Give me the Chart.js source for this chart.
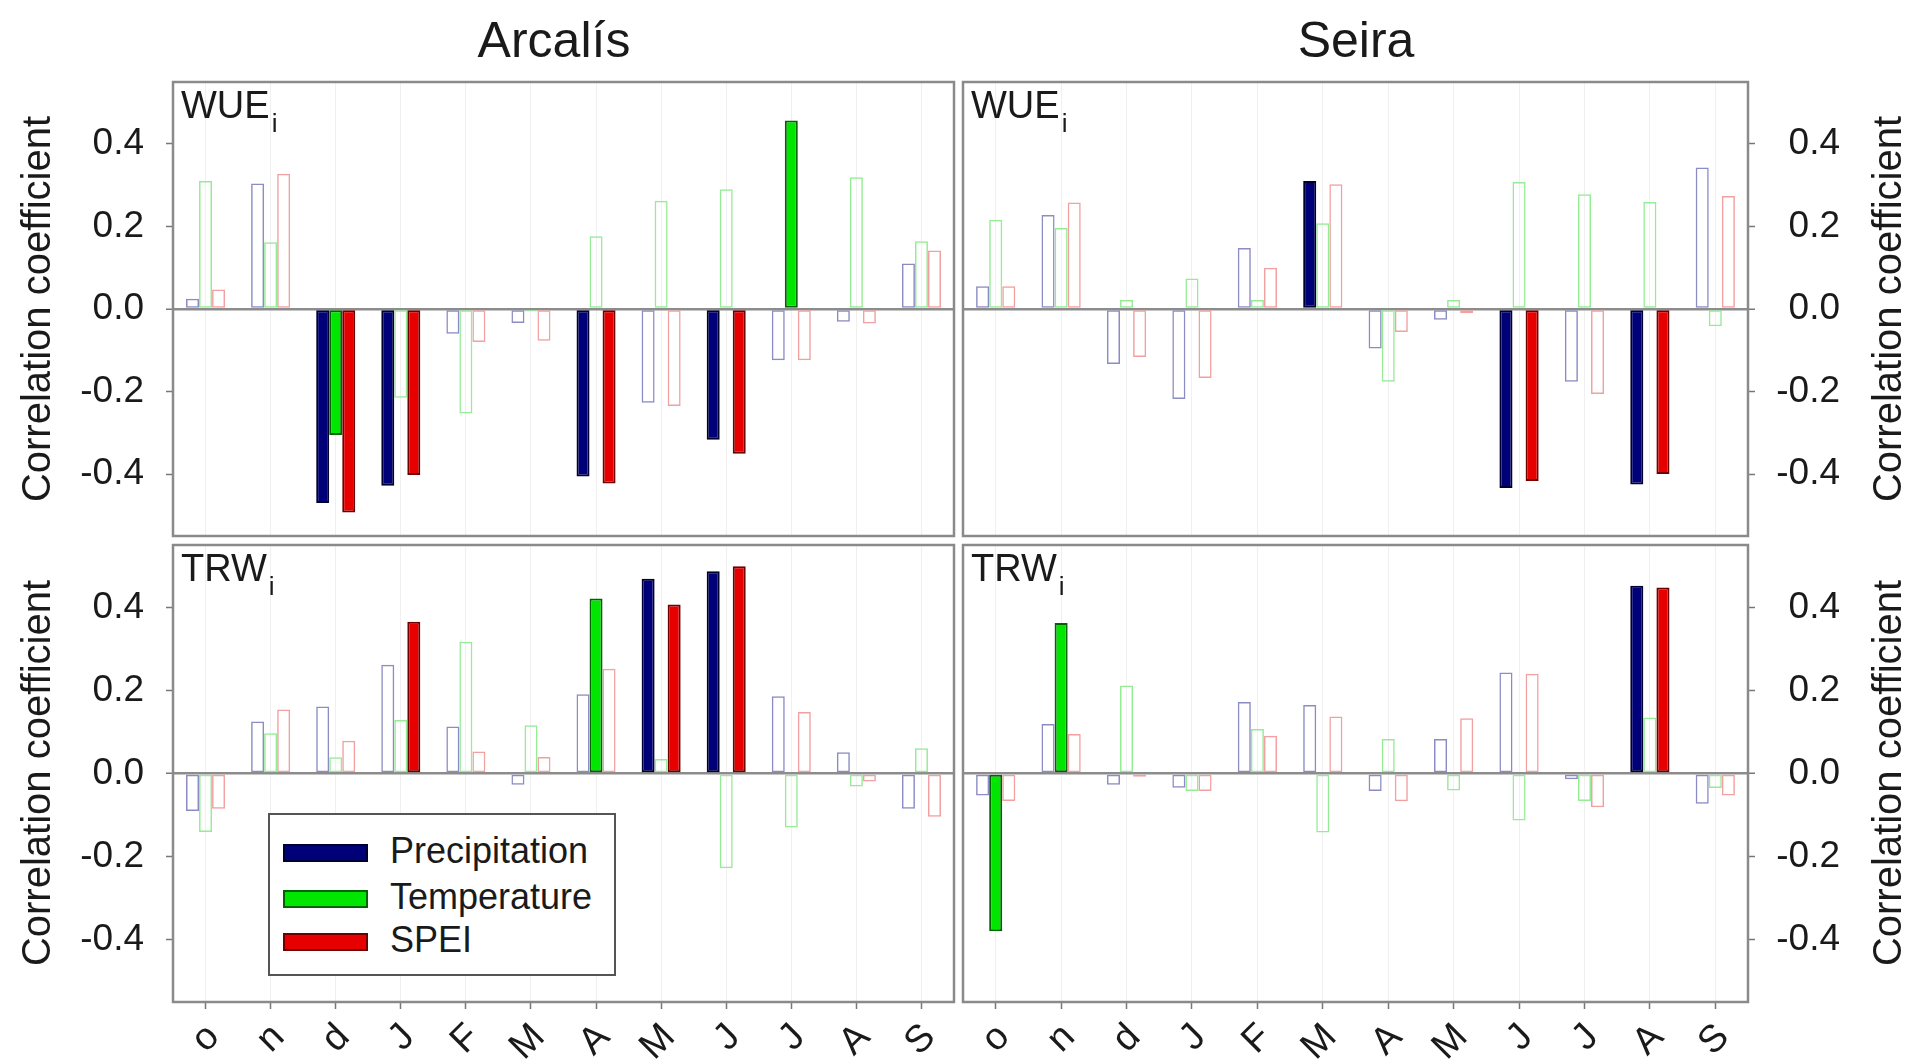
<!DOCTYPE html>
<html>
<head>
<meta charset="utf-8">
<script src="https://cdn.jsdelivr.net/npm/chart.js@4.4.1/dist/chart.umd.min.js"></script>
<style>
  body { margin: 0; width: 1910px; height: 1064px; background: #fff; position: relative; overflow: hidden;
         font-family: "Liberation Sans", Arial, sans-serif; color: #1a1a1a; }
  .panel { position: absolute; }
  .site { position: absolute; top: 15px; width: 400px; text-align: center; font-size: 50px; line-height: 50px; }
  .ytitle { position: absolute; width: 500px; height: 40px; line-height: 40px; font-size: 40px;
            text-align: center; transform: rotate(-90deg); white-space: nowrap; }
  .plabel { position: absolute; font-size: 38px; line-height: 38px; }
  .plabel span { position: relative; top: 14px; font-size: 26px; margin-left: 2px; }
  #legend { position: absolute; left: 268px; top: 813px; width: 344px; height: 159px; border: 2px solid #555;
            background: #fff; }
  #legend .row { position: absolute; left: 13px; height: 40px; }
  #legend .sw { position: absolute; left: 0; top: 11px; width: 81px; height: 14px; border: 2px solid #222; }
  #legend .tx { position: absolute; left: 107px; top: 0; font-size: 36px; line-height: 36px; white-space: nowrap; }
</style>
</head>
<body>

<div class="site" style="left:354px">Arcalís</div>
<div class="site" style="left:1156px">Seira</div>

<div class="panel" style="left:0;top:60px"><canvas id="wueArc" width="960" height="485"></canvas></div>
<div class="panel" style="left:960px;top:60px"><canvas id="wueSei" width="950" height="485"></canvas></div>
<div class="panel" style="left:0;top:536px"><canvas id="trwArc" width="960" height="528"></canvas></div>
<div class="panel" style="left:960px;top:536px"><canvas id="trwSei" width="950" height="528"></canvas></div>

<div class="ytitle" style="left:-214px;top:289px">Correlation coefficient</div>
<div class="ytitle" style="left:-214px;top:753px">Correlation coefficient</div>
<div class="ytitle" style="left:1637px;top:289px">Correlation coefficient</div>
<div class="ytitle" style="left:1637px;top:753px">Correlation coefficient</div>

<div class="plabel" style="left:181px;top:86px">WUE<span>i</span></div>
<div class="plabel" style="left:971px;top:86px">WUE<span>i</span></div>
<div class="plabel" style="left:181px;top:549px">TRW<span>i</span></div>
<div class="plabel" style="left:971px;top:549px">TRW<span>i</span></div>

<div id="legend"></div>

<script>
const months = ["o", "n", "d", "J", "F", "M", "A", "M", "J", "J", "A", "S"];
const seriesNames = ["Precipitation", "Temperature", "SPEI"];
const yTicks = [-0.4, -0.2, 0, 0.2, 0.4];

// WUEi - Arcalís
const wueArcPrec = [0.025, 0.304, -0.47, -0.428, -0.06, -0.034, -0.406, -0.227, -0.317, -0.124, -0.031, 0.11];
const wueArcTemp = [0.31, 0.162, -0.305, -0.215, -0.253, -0.006, 0.176, 0.262, 0.29, 0.457, 0.319, 0.164];
const wueArcSpei = [0.047, 0.328, -0.493, -0.402, -0.08, -0.077, -0.423, -0.235, -0.351, -0.124, -0.035, 0.142];
const wueArcPrecSig = [0, 0, 1, 1, 0, 0, 1, 0, 1, 0, 0, 0];
const wueArcTempSig = [0, 0, 1, 0, 0, 0, 0, 0, 0, 1, 0, 0];
const wueArcSpeiSig = [0, 0, 1, 1, 0, 0, 1, 0, 1, 0, 0, 0];

// WUEi - Seira
const wueSeiPrec = [0.055, 0.228, -0.133, -0.218, 0.148, 0.31, -0.096, -0.026, -0.434, -0.176, -0.425, 0.343];
const wueSeiTemp = [0.216, 0.196, 0.022, 0.074, 0.022, 0.208, -0.176, 0.022, 0.308, 0.278, 0.259, -0.042];
const wueSeiSpei = [0.055, 0.258, -0.116, -0.167, 0.1, 0.302, -0.056, -0.01, -0.417, -0.206, -0.4, 0.274];
const wueSeiPrecSig = [0, 0, 0, 0, 0, 1, 0, 0, 1, 0, 1, 0];
const wueSeiTempSig = [0, 0, 0, 0, 0, 0, 0, 0, 0, 0, 0, 0];
const wueSeiSpeiSig = [0, 0, 0, 0, 0, 0, 0, 0, 1, 0, 1, 0];

// TRWi - Arcalís
const trwArcPrec = [-0.09, 0.125, 0.161, 0.262, 0.113, -0.027, 0.191, 0.469, 0.487, 0.186, 0.051, -0.085];
const trwArcTemp = [-0.141, 0.097, 0.039, 0.129, 0.317, 0.116, 0.421, 0.035, -0.228, -0.13, -0.031, 0.061];
const trwArcSpei = [-0.085, 0.154, 0.079, 0.365, 0.053, 0.04, 0.252, 0.407, 0.499, 0.148, -0.019, -0.104];
const trwArcPrecSig = [0, 0, 0, 0, 0, 0, 0, 1, 1, 0, 0, 0];
const trwArcTempSig = [0, 0, 0, 0, 0, 0, 1, 0, 0, 0, 0, 0];
const trwArcSpeiSig = [0, 0, 0, 1, 0, 0, 0, 1, 1, 0, 0, 0];

// TRWi - Seira
const trwSeiPrec = [-0.053, 0.119, -0.027, -0.034, 0.172, 0.165, -0.042, 0.083, 0.243, -0.014, 0.452, -0.073];
const trwSeiTemp = [-0.38, 0.362, 0.212, -0.042, 0.107, -0.142, 0.083, -0.041, -0.113, -0.066, 0.135, -0.035];
const trwSeiSpei = [-0.066, 0.095, -0.008, -0.042, 0.091, 0.137, -0.067, 0.133, 0.24, -0.081, 0.448, -0.053];
const trwSeiPrecSig = [0, 0, 0, 0, 0, 0, 0, 0, 0, 0, 1, 0];
const trwSeiTempSig = [1, 1, 0, 0, 0, 0, 0, 0, 0, 0, 0, 0];
const trwSeiSpeiSig = [0, 0, 0, 0, 0, 0, 0, 0, 0, 0, 1, 0];

// fill / edge / outline-only colour for each variable
const fillColors = ["#000078", "#00e600", "#e60000"];
const edgeColors = ["#000030", "#006400", "#700000"];
const lightColors = ["#8c8cc4", "#94ec94", "#f2a0a0"];

const FONT = "'Liberation Sans', Arial, sans-serif";

const panelBox = {
    id: "panelBox",
    afterDraw(chart) {
        const { ctx, chartArea: a } = chart;
        ctx.save();
        ctx.strokeStyle = "#8a8a8a";
        ctx.lineWidth = 2.5;
        ctx.strokeRect(a.left, a.top, a.right - a.left, a.bottom - a.top);
        ctx.restore();
    },
};

function barSet(i, values, sig) {
    return {
        label: seriesNames[i],
        data: values,
        backgroundColor: sig.map(s => (s ? fillColors[i] : "rgba(255,255,255,0)")),
        borderColor: sig.map(s => (s ? edgeColors[i] : lightColors[i])),
        borderWidth: sig.map(s => (s ? 2 : 1.5)),
        borderSkipped: false,
        categoryPercentage: 0.6,
        barPercentage: 1.0,
    };
}

function makeChart(id, series, opts) {
    const showX = opts.showX;
    return new Chart(document.getElementById(id), {
        type: "bar",
        data: {
            labels: months,
            datasets: series.map((s, i) => barSet(i, s[0], s[1])),
        },
        options: {
            responsive: false,
            animation: false,
            layout: { padding: opts.padding },
            plugins: { legend: { display: false }, tooltip: { enabled: false } },
            scales: {
                x: {
                    grid: {
                        offset: false,
                        color: "rgba(0,0,0,0.06)",
                        drawTicks: showX,
                        tickLength: 7,
                        tickColor: "#777",
                        tickWidth: 1.5,
                    },
                    border: { display: false },
                    ticks: {
                        display: showX,
                        minRotation: 45,
                        maxRotation: 45,
                        padding: 6,
                        labelOffset: 8,
                        color: "#1a1a1a",
                        font: { family: FONT, size: 38 },
                    },
                    afterFit: s => {
                        s.height = opts.xHeight;
                        s.paddingLeft = 0;
                        s.paddingRight = 0;
                    },
                },
                y: {
                    position: opts.side,
                    min: -0.55,
                    max: 0.55,
                    afterBuildTicks: s => { s.ticks = yTicks.map(v => ({ value: v })); },
                    grid: {
                        color: c => (c.tick && c.tick.value === 0 ? "#8c8c8c" : "rgba(0,0,0,0)"),
                        lineWidth: c => (c.tick && c.tick.value === 0 ? 2.5 : 1),
                        tickColor: "#777",
                        tickLength: 7,
                        tickWidth: 1.5,
                    },
                    border: { display: false },
                    ticks: {
                        padding: 22,
                        crossAlign: opts.side === "right" ? "far" : "near",
                        color: "#1a1a1a",
                        font: { family: FONT, size: 37 },
                        callback: v => v.toFixed(1),
                    },
                    afterFit: s => {
                        s.width = opts.yWidth;
                        s.paddingTop = 0;
                        s.paddingBottom = 0;
                    },
                },
            },
        },
        plugins: [panelBox],
    });
}

makeChart("wueArc",
    [[wueArcPrec, wueArcPrecSig], [wueArcTemp, wueArcTempSig], [wueArcSpei, wueArcSpeiSig]],
    { side: "left", showX: false, yWidth: 173, xHeight: 9, padding: { left: 0, top: 22, right: 6, bottom: 0 } });

makeChart("wueSei",
    [[wueSeiPrec, wueSeiPrecSig], [wueSeiTemp, wueSeiTempSig], [wueSeiSpei, wueSeiSpeiSig]],
    { side: "right", showX: false, yWidth: 92, xHeight: 9, padding: { left: 3, top: 22, right: 70, bottom: 0 } });

makeChart("trwArc",
    [[trwArcPrec, trwArcPrecSig], [trwArcTemp, trwArcTempSig], [trwArcSpei, trwArcSpeiSig]],
    { side: "left", showX: true, yWidth: 173, xHeight: 62, padding: { left: 0, top: 9, right: 6, bottom: 0 } });

makeChart("trwSei",
    [[trwSeiPrec, trwSeiPrecSig], [trwSeiTemp, trwSeiTempSig], [trwSeiSpei, trwSeiSpeiSig]],
    { side: "right", showX: true, yWidth: 92, xHeight: 62, padding: { left: 3, top: 9, right: 70, bottom: 0 } });

// legend box inside the lower-left panel
const legend = document.getElementById("legend");
const rowTops = [18, 64, 107];
seriesNames.forEach((name, i) => {
    const row = document.createElement("div");
    row.className = "row";
    row.style.top = rowTops[i] + "px";
    row.innerHTML = '<div class="sw" style="background:' + fillColors[i] + ';border-color:' + edgeColors[i] +
        '"></div><div class="tx">' + name + "</div>";
    legend.appendChild(row);
});
</script>
</body>
</html>
